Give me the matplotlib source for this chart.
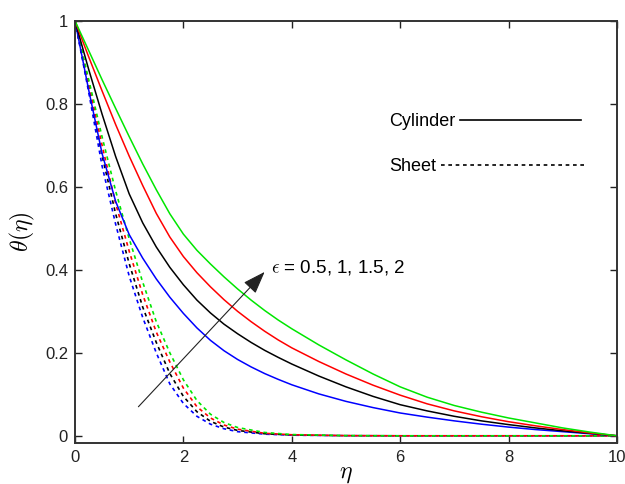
import matplotlib
matplotlib.use("Agg")
import matplotlib.pyplot as plt
from matplotlib.lines import Line2D

plt.rcParams['font.family'] = ['Liberation Sans', 'DejaVu Sans']
plt.rcParams['mathtext.fontset'] = 'cm'

# ---- data ----
eps_labels = ['0.5', '1', '1.5', '2']
colors = ['#0000ff', '#000000', '#ff0000', '#00e600']

eta_cyl = [0, 0.25, 0.5, 0.75, 1.0, 1.25, 1.5, 1.75, 2.0, 2.25, 2.5, 2.75, 3.0, 3.25, 3.5, 3.75, 4.0,
           4.5, 5.0, 5.5, 6.0, 6.5, 7.0, 7.5, 8.0, 8.5, 9.0, 9.5, 10.0]
theta_cyl_05 = [1.0, 0.835, 0.68, 0.565, 0.485, 0.428, 0.378, 0.334, 0.295, 0.260, 0.23, 0.205, 0.184, 0.166,
                0.150, 0.136, 0.123, 0.101, 0.083, 0.068, 0.055, 0.045, 0.036, 0.028, 0.021, 0.015, 0.010, 0.005, 0.0]
theta_cyl_10 = [1.0, 0.884, 0.775, 0.673, 0.583, 0.513, 0.455, 0.406, 0.364, 0.327, 0.296, 0.269, 0.246, 0.225,
                0.206, 0.189, 0.173, 0.144, 0.118, 0.095, 0.075, 0.060, 0.047, 0.036, 0.027, 0.019, 0.012, 0.006, 0.0]
theta_cyl_15 = [1.0, 0.914, 0.831, 0.75, 0.674, 0.603, 0.536, 0.479, 0.432, 0.393, 0.359, 0.328, 0.300, 0.275,
                0.252, 0.231, 0.212, 0.179, 0.149, 0.122, 0.098, 0.077, 0.060, 0.046, 0.034, 0.024, 0.015, 0.007, 0.0]
theta_cyl_20 = [1.0, 0.929, 0.858, 0.789, 0.721, 0.655, 0.593, 0.535, 0.486, 0.447, 0.414, 0.383, 0.354, 0.327,
                0.302, 0.279, 0.258, 0.219, 0.183, 0.149, 0.118, 0.093, 0.073, 0.057, 0.043, 0.031, 0.019, 0.009, 0.0]

eta_sheet = [0, 0.25, 0.5, 0.75, 1.0, 1.25, 1.5, 1.75, 2.0, 2.25, 2.5, 2.75, 3.0, 3.5, 4.0, 5.0, 6.0, 7.0, 8.0, 9.0, 10.0]
theta_sheet_05 = [1.0, 0.83, 0.65, 0.51, 0.385, 0.285, 0.20, 0.125, 0.078, 0.047, 0.028, 0.017, 0.010, 0.004, 0.0015, 0.0003, 0, 0, 0, 0, 0]
theta_sheet_10 = [1.0, 0.84, 0.675, 0.535, 0.415, 0.31, 0.225, 0.15, 0.095, 0.058, 0.035, 0.021, 0.013, 0.005, 0.002, 0.0003, 0, 0, 0, 0, 0]
theta_sheet_15 = [1.0, 0.85, 0.70, 0.56, 0.445, 0.34, 0.25, 0.178, 0.115, 0.07, 0.043, 0.026, 0.016, 0.006, 0.0025, 0.0004, 0, 0, 0, 0, 0]
theta_sheet_20 = [1.0, 0.86, 0.72, 0.59, 0.475, 0.37, 0.275, 0.20, 0.135, 0.085, 0.052, 0.032, 0.020, 0.008, 0.003, 0.0005, 0, 0, 0, 0, 0]

cyl_series = [theta_cyl_05, theta_cyl_10, theta_cyl_15, theta_cyl_20]
sheet_series = [theta_sheet_05, theta_sheet_10, theta_sheet_15, theta_sheet_20]

xticks = [0, 2, 4, 6, 8, 10]
xticklabels = ['0', '2', '4', '6', '8', '10']
yticks = [0, 0.2, 0.4, 0.6, 0.8, 1.0]
yticklabels = ['0', '0.2', '0.4', '0.6', '0.8', '1']

# ---- figure ----
fig = plt.figure(figsize=(6.25, 4.84), dpi=100)
ax = fig.add_axes([0.12, 0.085, 0.867, 0.872])

dash = (0, (2.2, 2.2))
for ys, c in zip(sheet_series, colors):
    ax.plot(eta_sheet, ys, color=c, lw=1.2, linestyle=dash)
for ys, c in zip(cyl_series, colors):
    ax.plot(eta_cyl, ys, color=c, lw=1.1)

ax.set_xlim(0, 10)
ax.set_ylim(-0.017, 1.0)
ax.set_xticks(xticks)
ax.set_xticklabels(xticklabels)
ax.set_yticks(yticks)
ax.set_yticklabels(yticklabels)
ax.tick_params(direction='in', length=5, width=1.0, top=True, right=True,
               labelsize=12, colors='#222222', pad=5)
for sp in ax.spines.values():
    sp.set_linewidth(1.4)
    sp.set_color('#333333')

ax.set_xlabel(r'$\eta$', fontsize=17, labelpad=-1)
ax.set_ylabel(r'$\theta(\eta)$', fontsize=17, labelpad=6)

# annotation arrow
ax.annotate('', xy=(3.5, 0.395), xytext=(1.17, 0.07),
            arrowprops=dict(arrowstyle='-|>,head_length=0.7,head_width=0.25', lw=0.8,
                            color='#222222', mutation_scale=20, shrinkA=0, shrinkB=0))
ax.text(3.62, 0.405, r'$\epsilon$ = 0.5, 1, 1.5, 2', fontsize=13.5, va='center', ha='left')

# legends (text first, then line)
h_cyl = Line2D([], [], color='black', lw=1.2)
h_sheet = Line2D([], [], color='black', lw=1.2, linestyle=dash)
leg1 = ax.legend([h_cyl], ['Cylinder'], loc='center left', bbox_to_anchor=(5.79, 0.757),
                 bbox_transform=ax.transData, markerfirst=False, frameon=False,
                 handlelength=6.7, handletextpad=0.3, borderpad=0, borderaxespad=0,
                 fontsize=13)
ax.add_artist(leg1)
ax.legend([h_sheet], ['Sheet'], loc='center left', bbox_to_anchor=(5.79, 0.648),
          bbox_transform=ax.transData, markerfirst=False, frameon=False,
          handlelength=7.9, handletextpad=0.3, borderpad=0, borderaxespad=0,
          fontsize=13)

fig.savefig('out.png', dpi=100)
